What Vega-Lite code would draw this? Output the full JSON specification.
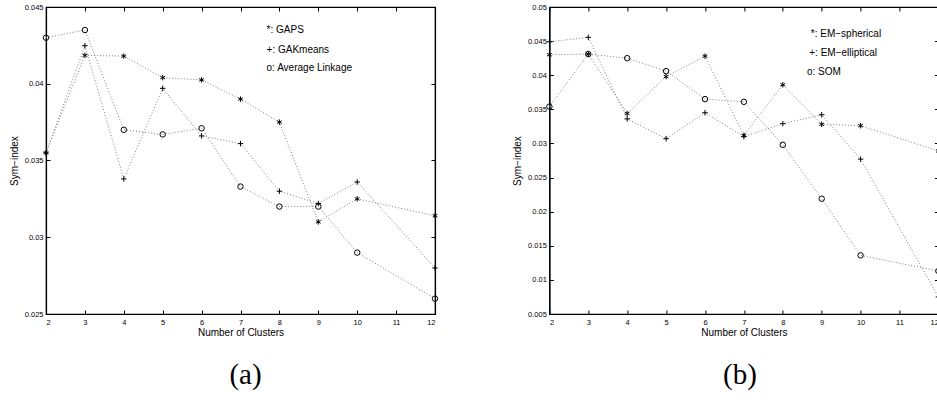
{
  "$schema": "https://vega.github.io/schema/vega-lite/v6.json",
  "background": "white",
  "padding": {"left": 8, "top": 2, "right": 0, "bottom": 0},
  "bounds": "flush",
  "spacing": 114.4,
  "datasets": {
    "a": [
      {"k": 2, "series": "GAPS", "v": 0.0355},
      {"k": 3, "series": "GAPS", "v": 0.04185},
      {"k": 4, "series": "GAPS", "v": 0.0418},
      {"k": 5, "series": "GAPS", "v": 0.0404},
      {"k": 6, "series": "GAPS", "v": 0.04025},
      {"k": 7, "series": "GAPS", "v": 0.039},
      {"k": 8, "series": "GAPS", "v": 0.0375},
      {"k": 9, "series": "GAPS", "v": 0.031},
      {"k": 10, "series": "GAPS", "v": 0.0325},
      {"k": 12, "series": "GAPS", "v": 0.0314},
      {"k": 2, "series": "GAKmeans", "v": 0.0355},
      {"k": 3, "series": "GAKmeans", "v": 0.04248},
      {"k": 4, "series": "GAKmeans", "v": 0.0338},
      {"k": 5, "series": "GAKmeans", "v": 0.0397},
      {"k": 6, "series": "GAKmeans", "v": 0.0366},
      {"k": 7, "series": "GAKmeans", "v": 0.0361},
      {"k": 8, "series": "GAKmeans", "v": 0.033},
      {"k": 9, "series": "GAKmeans", "v": 0.0322},
      {"k": 10, "series": "GAKmeans", "v": 0.0336},
      {"k": 12, "series": "GAKmeans", "v": 0.028},
      {"k": 2, "series": "Average Linkage", "v": 0.043},
      {"k": 3, "series": "Average Linkage", "v": 0.0435},
      {"k": 4, "series": "Average Linkage", "v": 0.037},
      {"k": 5, "series": "Average Linkage", "v": 0.0367},
      {"k": 6, "series": "Average Linkage", "v": 0.0371},
      {"k": 7, "series": "Average Linkage", "v": 0.0333},
      {"k": 8, "series": "Average Linkage", "v": 0.032},
      {"k": 9, "series": "Average Linkage", "v": 0.032},
      {"k": 10, "series": "Average Linkage", "v": 0.029},
      {"k": 12, "series": "Average Linkage", "v": 0.026}
    ],
    "b": [
      {"k": 2, "series": "EM-spherical", "v": 0.043},
      {"k": 3, "series": "EM-spherical", "v": 0.0431},
      {"k": 4, "series": "EM-spherical", "v": 0.0344},
      {"k": 5, "series": "EM-spherical", "v": 0.0398},
      {"k": 6, "series": "EM-spherical", "v": 0.0428},
      {"k": 7, "series": "EM-spherical", "v": 0.0312},
      {"k": 8, "series": "EM-spherical", "v": 0.0386},
      {"k": 9, "series": "EM-spherical", "v": 0.0328},
      {"k": 10, "series": "EM-spherical", "v": 0.0326},
      {"k": 12, "series": "EM-spherical", "v": 0.0289},
      {"k": 2, "series": "EM-elliptical", "v": 0.0449},
      {"k": 3, "series": "EM-elliptical", "v": 0.04555},
      {"k": 4, "series": "EM-elliptical", "v": 0.0336},
      {"k": 5, "series": "EM-elliptical", "v": 0.0307},
      {"k": 6, "series": "EM-elliptical", "v": 0.0345},
      {"k": 7, "series": "EM-elliptical", "v": 0.031},
      {"k": 8, "series": "EM-elliptical", "v": 0.0329},
      {"k": 9, "series": "EM-elliptical", "v": 0.0342},
      {"k": 10, "series": "EM-elliptical", "v": 0.0277},
      {"k": 12, "series": "EM-elliptical", "v": 0.0075},
      {"k": 2, "series": "SOM", "v": 0.0354},
      {"k": 3, "series": "SOM", "v": 0.0431},
      {"k": 4, "series": "SOM", "v": 0.0425},
      {"k": 5, "series": "SOM", "v": 0.0406},
      {"k": 6, "series": "SOM", "v": 0.0365},
      {"k": 7, "series": "SOM", "v": 0.0361},
      {"k": 8, "series": "SOM", "v": 0.0298},
      {"k": 9, "series": "SOM", "v": 0.0219},
      {"k": 10, "series": "SOM", "v": 0.0136},
      {"k": 12, "series": "SOM", "v": 0.0113}
    ],
    "legA": [
      {"x": 7.67, "y": 0.04352, "label": "*: GAPS"},
      {"x": 7.67, "y": 0.04222, "label": "+: GAKmeans"},
      {"x": 7.67, "y": 0.04103, "label": "o: Average Linkage"}
    ],
    "legB": [
      {"x": 8.72, "y": 0.0461, "label": "*: EM−spherical"},
      {"x": 8.68, "y": 0.0433, "label": "+: EM−elliptical"},
      {"x": 8.62, "y": 0.0405, "label": "o: SOM"}
    ]
  },
  "hconcat": [
    {
      "width": 389,
      "height": 307,
      "title": {"text": "(a)", "orient": "bottom", "font": "Liberation Serif", "fontSize": 29, "fontWeight": "normal", "offset": 23, "dx": 5, "color": "black"},
      "layer": [
        {
          "data": {"name": "a"},
          "mark": {"type": "line", "stroke": "#808080", "strokeWidth": 1, "strokeDash": [1, 2]},
          "encoding": {
            "x": {"field": "k", "type": "quantitative", "scale": {"domain": [2, 12], "nice": false, "zero": false},
                  "axis": {"orient": "top", "labels": false, "title": null, "values": [2,3,4,5,6,7,8,9,10,11,12], "tickSize": -4}},
            "y": {"field": "v", "type": "quantitative", "scale": {"domain": [0.025, 0.045], "nice": false, "zero": false},
                  "axis": {"orient": "right", "labels": false, "title": null, "values": [0.025,0.03,0.035,0.04,0.045], "tickSize": -4}},
            "detail": {"field": "series", "type": "nominal"}
          }
        },
        {
          "data": {"name": "a"},
          "mark": {"type": "point", "filled": false, "stroke": "black", "strokeWidth": 1, "size": 30, "opacity": 1},
          "encoding": {
            "x": {"field": "k", "type": "quantitative", "scale": {"domain": [2, 12], "nice": false, "zero": false},
                  "axis": {"orient": "bottom", "title": "Number of Clusters", "values": [2,3,4,5,6,7,8,9,10,11,12], "format": "d", "tickSize": -4, "labelPadding": 8, "titlePadding": 2}},
            "y": {"field": "v", "type": "quantitative", "scale": {"domain": [0.025, 0.045], "nice": false, "zero": false},
                  "axis": {"orient": "left", "title": "Sym−index", "values": [0.025,0.03,0.035,0.04,0.045], "format": "~g", "tickSize": -4, "labelPadding": 7, "titlePadding": 5}},
            "shape": {"field": "series", "type": "nominal", "legend": null,
                      "scale": {"domain": ["GAPS", "GAKmeans", "Average Linkage"],
                                "range": ["M0,-1L0,1M-0.87,-0.5L0.87,0.5M-0.87,0.5L0.87,-0.5", "M-1,0L1,0M0,-1L0,1", "circle"]}}
          }
        },
        {
          "data": {"name": "legA"},
          "mark": {"type": "text", "align": "left", "baseline": "middle", "font": "Liberation Sans", "fontSize": 10, "color": "black"},
          "encoding": {
            "x": {"field": "x", "type": "quantitative", "scale": {"domain": [2, 12], "nice": false, "zero": false}, "axis": null},
            "y": {"field": "y", "type": "quantitative", "scale": {"domain": [0.025, 0.045], "nice": false, "zero": false}, "axis": null},
            "text": {"field": "label"}
          }
        }
      ],
      "resolve": {"axis": {"x": "independent", "y": "independent"}}
    },
    {
      "width": 389,
      "height": 307,
      "title": {"text": "(b)", "orient": "bottom", "font": "Liberation Serif", "fontSize": 29, "fontWeight": "normal", "offset": 23, "dx": -4, "color": "black"},
      "layer": [
        {
          "data": {"name": "b"},
          "mark": {"type": "line", "stroke": "#808080", "strokeWidth": 1, "strokeDash": [1, 2]},
          "encoding": {
            "x": {"field": "k", "type": "quantitative", "scale": {"domain": [2, 12], "nice": false, "zero": false},
                  "axis": {"orient": "top", "labels": false, "title": null, "values": [2,3,4,5,6,7,8,9,10,11,12], "tickSize": -4}},
            "y": {"field": "v", "type": "quantitative", "scale": {"domain": [0.005, 0.05], "nice": false, "zero": false},
                  "axis": {"orient": "right", "labels": false, "title": null, "values": [0.005,0.01,0.015,0.02,0.025,0.03,0.035,0.04,0.045,0.05], "tickSize": -4}},
            "detail": {"field": "series", "type": "nominal"}
          }
        },
        {
          "data": {"name": "b"},
          "mark": {"type": "point", "filled": false, "stroke": "black", "strokeWidth": 1, "size": 30, "opacity": 1},
          "encoding": {
            "x": {"field": "k", "type": "quantitative", "scale": {"domain": [2, 12], "nice": false, "zero": false},
                  "axis": {"orient": "bottom", "title": "Number of Clusters", "values": [2,3,4,5,6,7,8,9,10,11,12], "format": "d", "tickSize": -4, "labelPadding": 8, "titlePadding": 2}},
            "y": {"field": "v", "type": "quantitative", "scale": {"domain": [0.005, 0.05], "nice": false, "zero": false},
                  "axis": {"orient": "left", "title": "Sym−index", "values": [0.005,0.01,0.015,0.02,0.025,0.03,0.035,0.04,0.045,0.05], "format": "~g", "tickSize": -4, "labelPadding": 7, "titlePadding": 5}},
            "shape": {"field": "series", "type": "nominal", "legend": null,
                      "scale": {"domain": ["EM-spherical", "EM-elliptical", "SOM"],
                                "range": ["M0,-1L0,1M-0.87,-0.5L0.87,0.5M-0.87,0.5L0.87,-0.5", "M-1,0L1,0M0,-1L0,1", "circle"]}}
          }
        },
        {
          "data": {"name": "legB"},
          "mark": {"type": "text", "align": "left", "baseline": "middle", "font": "Liberation Sans", "fontSize": 10, "color": "black"},
          "encoding": {
            "x": {"field": "x", "type": "quantitative", "scale": {"domain": [2, 12], "nice": false, "zero": false}, "axis": null},
            "y": {"field": "y", "type": "quantitative", "scale": {"domain": [0.005, 0.05], "nice": false, "zero": false}, "axis": null},
            "text": {"field": "label"}
          }
        }
      ],
      "resolve": {"axis": {"x": "independent", "y": "independent"}}
    }
  ],
  "config": {
    "view": {"stroke": "black", "strokeWidth": 1.2},
    "axis": {
      "grid": false,
      "labelFont": "Liberation Sans", "labelFontSize": 7.5, "labelColor": "black",
      "titleFont": "Liberation Sans", "titleFontSize": 10, "titleFontWeight": "normal", "titleColor": "black",
      "domainColor": "black", "domainWidth": 1.2, "tickColor": "black", "tickWidth": 1
    }
  }
}
